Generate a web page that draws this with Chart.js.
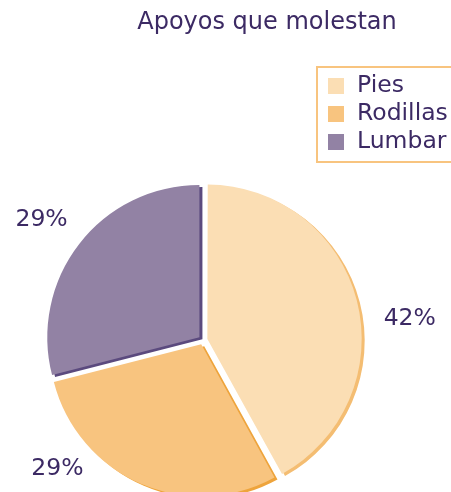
<!DOCTYPE html>
<html>
<head>
<meta charset="utf-8">
<script src="https://cdn.jsdelivr.net/npm/chart.js@4.4.0/dist/chart.umd.min.js"></script>
<style>
  html, body { margin: 0; padding: 0; background: #ffffff; }
  #wrap { position: relative; width: 451px; height: 492px; }
</style>
</head>
<body>
<div id="wrap"><canvas id="apoyosChart" width="451" height="492"></canvas></div>
<script>
// data
const chartTitle = 'Apoyos que molestan';
const categories = ['Pies', 'Rodillas', 'Lumbar'];
const percentValues = [42, 29, 29];

const sliceColors = ['#fbdeb4', '#f8c47f', '#9282a4'];
const shadowColors = ['#f4bd72', '#eea43c', '#5b4a7e'];
const textColor = '#3c2a64';
const fontFamily = '"DejaVu Sans", Verdana, sans-serif';

// small nudges for the outside labels (excel "best fit" placement)
const labelNudge = [[15, 28], [-67, -53], [-5, 1]];

const shadowPlugin = {
  id: 'sliceShadow',
  beforeDatasetsDraw(chart) {
    const ctx = chart.ctx;
    const meta = chart.getDatasetMeta(0);
    meta.data.forEach((arc, i) => {
      const o = arc.options;
      const bg = o.backgroundColor;
      ctx.save();
      ctx.translate(3, 2);
      o.backgroundColor = shadowColors[i];
      arc.draw(ctx);
      o.backgroundColor = bg;
      ctx.restore();
    });
  },
};

const extrasPlugin = {
  id: 'extras',
  afterDraw(chart) {
    const ctx = chart.ctx;
    ctx.save();

    // title
    ctx.fillStyle = textColor;
    ctx.font = '24px ' + fontFamily;
    ctx.textAlign = 'center';
    ctx.textBaseline = 'middle';
    ctx.fillText(chartTitle, 267, 23);

    // outside percentage labels
    const meta = chart.getDatasetMeta(0);
    ctx.font = '23.5px ' + fontFamily;
    meta.data.forEach((arc, i) => {
      const mid = (arc.startAngle + arc.endAngle) / 2;
      const d = arc.outerRadius + 46;
      const x = arc.x + Math.cos(mid) * d + labelNudge[i][0];
      const y = arc.y + Math.sin(mid) * d + labelNudge[i][1];
      ctx.fillText(percentValues[i] + '%', x, y);
    });

    // legend box
    ctx.strokeStyle = '#f8c47f';
    ctx.lineWidth = 2;
    ctx.strokeRect(317, 67, 150, 95);
    ctx.font = '23.5px ' + fontFamily;
    ctx.textAlign = 'left';
    categories.forEach((name, i) => {
      const y = 86 + i * 28;
      ctx.fillStyle = sliceColors[i];
      ctx.fillRect(328, y - 8, 16, 16);
      ctx.fillStyle = textColor;
      ctx.fillText(name, 357, y);
    });

    ctx.restore();
  },
};

const ctx = document.getElementById('apoyosChart').getContext('2d');
new Chart(ctx, {
  type: 'pie',
  data: {
    labels: categories,
    datasets: [{
      data: percentValues,
      backgroundColor: sliceColors,
      borderWidth: 0,
      offset: 18,
    }],
  },
  options: {
    responsive: false,
    animation: false,
    radius: 152,
    layout: {
      padding: { left: 0, right: 45, top: 188, bottom: 0 },
    },
    plugins: {
      legend: { display: false },
      title: { display: false },
      tooltip: { enabled: false },
    },
  },
  plugins: [shadowPlugin, extrasPlugin],
});
</script>
</body>
</html>
